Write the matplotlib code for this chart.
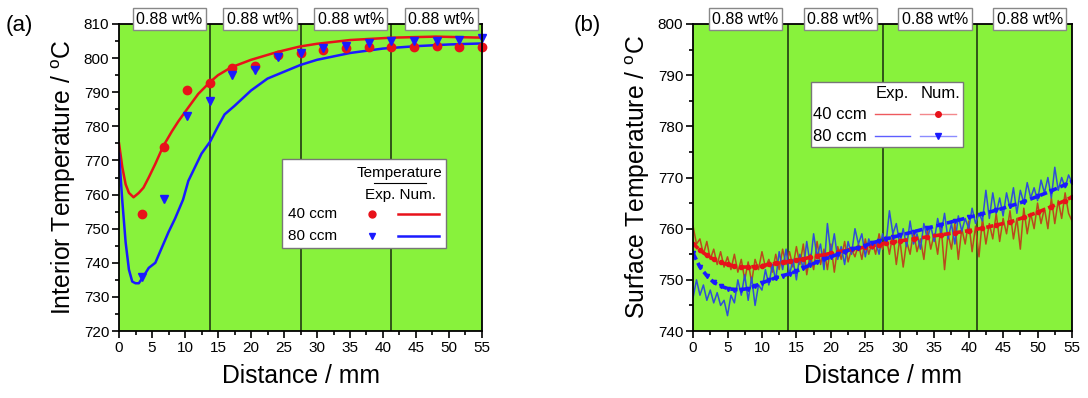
import numpy as np
import matplotlib
matplotlib.use("Agg")
from matplotlib import pyplot as plt
from matplotlib.patches import Rectangle
from matplotlib.lines import Line2D

plt.rcParams['font.family'] = ['Liberation Sans', 'DejaVu Sans']
plt.rcParams['mathtext.fontset'] = 'custom'
plt.rcParams['mathtext.rm'] = 'Liberation Sans'

# ---- panel (a): interior temperature ----
a_exp_x = [3.44, 6.88, 10.31, 13.75, 17.19, 20.63, 24.06, 27.5, 30.94, 34.38,
           37.81, 41.25, 44.69, 48.13, 51.56, 55.0]
a_exp40 = [754.2, 774.0, 790.6, 792.7, 797.0, 797.8, 800.9, 801.6, 802.5, 802.9,
           803.3, 803.4, 803.4, 803.5, 803.3, 803.2]
a_exp80 = [735.8, 758.6, 783.0, 787.5, 795.0, 796.4, 800.4, 801.4, 803.0, 803.5,
           804.5, 805.0, 805.0, 805.0, 805.2, 806.0]

a_num40_x = [0, 0.5, 1, 1.5, 2.2, 3, 3.7, 4.5, 5.5, 6.7, 8, 9, 10.3, 12, 13.8, 15,
             17, 20, 24, 27.4, 30, 35, 41.4, 48, 55]
a_num40 = [775, 768, 763, 760.5, 759.2, 760.5, 762, 765, 769, 774.2, 778.5, 781.5,
           785, 789.5, 793, 795, 797.3, 799.5, 801.8, 803.4, 804.2, 805.3, 806,
           806.3, 806]
a_num80_x = [0, 0.5, 1, 1.5, 2, 2.5, 3, 3.7, 4.5, 5.5, 6.5, 7.5, 8.5, 9.7, 10.5,
             11.5, 12.5, 13.8, 15, 16, 17.5, 20, 22.5, 25, 27.5, 30, 35, 40, 45,
             50, 55]
a_num80 = [772, 758, 746, 738, 734.5, 734, 734, 736, 738.5, 740, 744.5, 749, 753,
           758.5, 764, 768, 772, 775.5, 780, 783.5, 786, 790.5, 794, 796, 798,
           799.5, 801.5, 802.8, 803.5, 804, 804.3]

# ---- panel (b): surface temperature ----
b_exp_x = [i * 0.5 for i in range(111)]
b_exp40 = [760.5, 757, 758, 755, 757.5, 754, 756, 753, 755.5, 752.5, 754.5, 752,
           755, 751.5, 754, 750, 753.5, 749.5, 754, 752, 755.5, 752.5, 754, 751.5,
           755, 752, 756, 753, 755.5, 752.5, 756.5, 753, 757, 751, 755, 752,
           757.5, 753, 756, 752, 757, 751.5, 756.5, 754, 757.5, 753.5, 756, 754.5,
           757, 754, 758, 755, 757.5, 755, 759, 756, 758.5, 755, 759, 753,
           758, 752.5, 757.5, 755, 759.5, 755.5, 758, 754, 760, 756, 759, 755,
           760.5, 752, 759, 756, 761, 754, 760, 757, 761.5, 755.5, 760.5, 754.5,
           762, 757, 761, 758, 763, 757.5, 762, 759, 763.5, 758, 762, 756,
           764, 759, 763, 760, 765, 761, 764, 760, 766, 761, 765.5, 762,
           767, 763, 761.5]
b_exp80 = [746.5, 750, 747, 749, 746, 748, 745.5, 747.5, 745, 746, 743, 747,
           745.5, 750, 747, 751, 746, 750.5, 745, 749, 748, 752, 749, 753,
           750, 755.5, 752, 756, 751, 754, 750, 755, 752, 757.5, 753, 759,
           754.5, 757, 752, 761, 755, 759, 754, 756.5, 753, 757.5, 755, 760,
           757, 759, 754.5, 758, 756, 757.5, 755, 759, 757, 763.5, 759, 761,
           757, 760, 756.5, 761.5, 757, 759, 756, 761, 758, 760.5, 757.5, 762,
           759, 763, 758, 761, 757, 762.5, 759.5, 762, 760, 764, 761, 763,
           761.5, 767.5, 762, 767, 763, 766, 762.5, 767, 764, 768, 763, 767.5,
           765, 769, 766, 768, 765.5, 769.5, 767, 770, 766, 772, 767.5, 770,
           768, 770.5, 769]

b_num_x = [0, 1, 2, 3, 4, 5, 6, 7, 8, 9, 10, 11, 12, 13, 14, 15, 16, 17, 18, 19,
           20, 21, 22, 23, 24, 25, 26, 27, 28, 29, 30, 32, 34, 36, 38, 40, 42,
           44, 46, 48, 50, 52, 54, 55]
b_num40 = [757.1, 755.8, 754.8, 754.0, 753.4, 753.0, 752.7, 752.5, 752.5, 752.6,
           752.8, 753.0, 753.2, 753.4, 753.6, 753.9, 754.1, 754.4, 754.7, 754.9,
           755.2, 755.5, 755.7, 756.0, 756.2, 756.4, 756.7, 756.9, 757.2, 757.4,
           757.6, 758.0, 758.4, 758.8, 759.2, 759.6, 760.1, 760.7, 761.3, 762.2,
           763.2, 764.3, 765.5, 766.2]
b_num80 = [755.2, 752.5, 750.8, 749.5, 748.8, 748.3, 748.1, 748.1, 748.3, 748.8,
           749.4, 749.9, 750.4, 750.8, 751.2, 751.7, 752.3, 752.9, 753.5, 754.0,
           754.5, 755.0, 755.5, 756.0, 756.3, 756.7, 757.2, 757.6, 758.0, 758.3,
           758.7, 759.4, 760.1, 760.8, 761.5, 762.2, 762.9, 763.6, 764.4, 765.3,
           766.3, 767.4, 768.6, 769.2]

zone_label = "0.88 wt%"
green = "#88f23c"
red = "#e8121a"
blue = "#1a1aff"


def setup(ax, ylim, ylabel):
    ax.set_facecolor(green)
    ax.set_xlim(0, 55)
    ax.set_ylim(*ylim)
    ax.set_xticks(np.arange(0, 56, 5))
    ax.set_xticks(np.arange(2.5, 55, 5), minor=True)
    ax.set_yticks(np.arange(ylim[0], ylim[1] + 1, 10))
    ax.set_yticks(np.arange(ylim[0] + 5, ylim[1], 10), minor=True)
    ax.tick_params(direction='out', labelsize=11, width=1.2, length=5, pad=2)
    ax.tick_params(which='minor', direction='out', width=1.2, length=3)
    for s in ax.spines.values():
        s.set_linewidth(1.3)
    ax.set_xlabel("Distance / mm", fontsize=17.8, labelpad=7)
    ax.set_ylabel(ylabel + r" / $^{\mathrm{o}}$C", fontsize=17.8, labelpad=4)
    for i in range(1, 4):
        ax.axvline(55 / 4 * i, color='#1a2a10', lw=1.1)
    for i in range(4):
        ax.text(55 / 4 * i + 7.6, 1.015, zone_label, transform=ax.get_xaxis_transform(),
                ha='center', va='center', fontsize=11.5, clip_on=False,
                bbox=dict(boxstyle='square,pad=0.22', fc='white', ec='#888888', lw=1))


fig = plt.figure(figsize=(10.88, 3.98), dpi=100)
ax1 = fig.add_axes([0.1094, 0.1683, 0.3336, 0.7714])
ax2 = fig.add_axes([0.637, 0.1683, 0.3483, 0.7714])

# (a)
setup(ax1, (720, 810), "Interior Temperature")
ax1.plot(a_num40_x, a_num40, color=red, lw=1.8)
ax1.plot(a_num80_x, a_num80, color=blue, lw=1.8)
ax1.plot(a_exp_x, a_exp40, 'o', color=red, ms=6, clip_on=False)
ax1.plot(a_exp_x, a_exp80, 'v', color=blue, ms=6, clip_on=False)

tr = ax1.transAxes
ax1.add_patch(Rectangle((0.448, 0.269), 0.452, 0.29, transform=tr, fc='white',
                        ec='#777777', lw=1, zorder=5))
ax1.text(0.774, 0.516, "Temperature", transform=tr, ha='center', va='center',
         fontsize=11, zorder=6)
ax1.add_line(Line2D([0.703, 0.846], [0.481, 0.481], transform=tr, color='k', lw=0.8, zorder=6))
ax1.text(0.774, 0.443, "Exp. Num.", transform=tr, ha='center', va='center',
         fontsize=11, zorder=6)
for yy, lab, col, mk in [(0.380, "40 ccm", red, 'o'), (0.309, "80 ccm", blue, 'v')]:
    ax1.text(0.465, yy, lab, transform=tr, ha='left', va='center', fontsize=11, zorder=6)
    ax1.add_line(Line2D([0.696], [yy], transform=tr, color=col, marker=mk, ms=5,
                        ls='none', zorder=6))
    ax1.add_line(Line2D([0.769, 0.882], [yy, yy], transform=tr, color=col, lw=1.8, zorder=6))

# (b)
setup(ax2, (740, 800), "Surface Temperature")
ax2.plot(b_exp_x, b_exp40, color='#b84a1c', lw=1.1)
ax2.plot(b_exp_x, b_exp80, color='#2f4ed8', lw=1.1)
ax2.plot(b_num_x, b_num40, color=red, lw=2.6, ls=(0, (2, 1)), marker='o', ms=3)
ax2.plot(b_num_x, b_num80, color=blue, lw=2.6, ls=(0, (2, 1)), marker='v', ms=3)

tr = ax2.transAxes
ax2.add_patch(Rectangle((0.311, 0.598), 0.402, 0.214, transform=tr, fc='white',
                        ec='#777777', lw=1, zorder=5))
ax2.text(0.526, 0.774, "Exp.", transform=tr, ha='center', va='center', fontsize=12, zorder=6)
ax2.text(0.652, 0.774, "Num.", transform=tr, ha='center', va='center', fontsize=12, zorder=6)
for yy, lab, col, mk in [(0.706, "40 ccm", red, 'o'), (0.635, "80 ccm", blue, 'v')]:
    ax2.text(0.317, yy, lab, transform=tr, ha='left', va='center', fontsize=12, zorder=6)
    ax2.add_line(Line2D([0.480, 0.573], [yy, yy], transform=tr, color=col, lw=1,
                        alpha=0.7, zorder=6))
    ax2.add_line(Line2D([0.599, 0.693], [yy, yy], transform=tr, color=col, lw=1,
                        alpha=0.5, zorder=6))
    ax2.add_line(Line2D([0.646], [yy], transform=tr, color=col, marker=mk, ms=4,
                        ls='none', zorder=6))

fig.text(0.005, 0.935, "(a)", fontsize=16, va='center')
fig.text(0.527, 0.935, "(b)", fontsize=16, va='center')

fig.savefig("out.png", dpi=100)
